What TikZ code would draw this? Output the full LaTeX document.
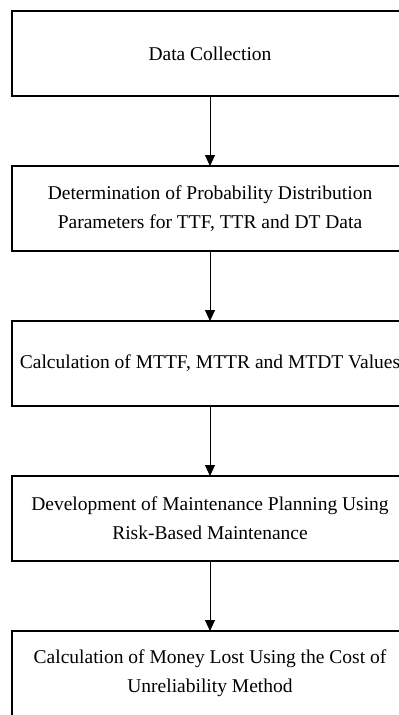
\documentclass[tikz,border=0pt]{standalone}
\usepackage{fontspec}
\setmainfont{Liberation Serif}
\usetikzlibrary{positioning,arrows.meta}

\begin{document}
\begin{tikzpicture}[x=1pt, y=-1pt,
  stepbox/.style={draw=black, line width=1.3pt, fill=white, outer sep=0pt,
    minimum width=396pt, minimum height=85pt, align=center,
    font=\fontsize{19.5}{29}\selectfont},
  flow/.style={draw=black, line width=0.9pt, -{Triangle[width=10pt, length=11pt]}},
  node distance=70pt]
\useasboundingbox (0,0) rectangle (399,715);
\clip (0,0) rectangle (399,715);
\node [stepbox] (collect) at (210,53.5) {Data Collection};
\node [stepbox, below=of collect] (distrib) {Determination of Probability Distribution\\Parameters for TTF, TTR and DT Data};
\node [stepbox, below=of distrib] (values) {Calculation of MTTF, MTTR and MTDT Values};
\node [stepbox, below=of values] (planning) {Development of Maintenance Planning Using\\Risk-Based Maintenance};
\node [stepbox, below=of planning] (money) {Calculation of Money Lost Using the Cost of\\Unreliability Method};
% arrows between the steps
\foreach \a/\b in {collect/distrib, distrib/values, values/planning, planning/money}
  \draw [flow] (\a) -- (\b);
\end{tikzpicture}
\end{document}
